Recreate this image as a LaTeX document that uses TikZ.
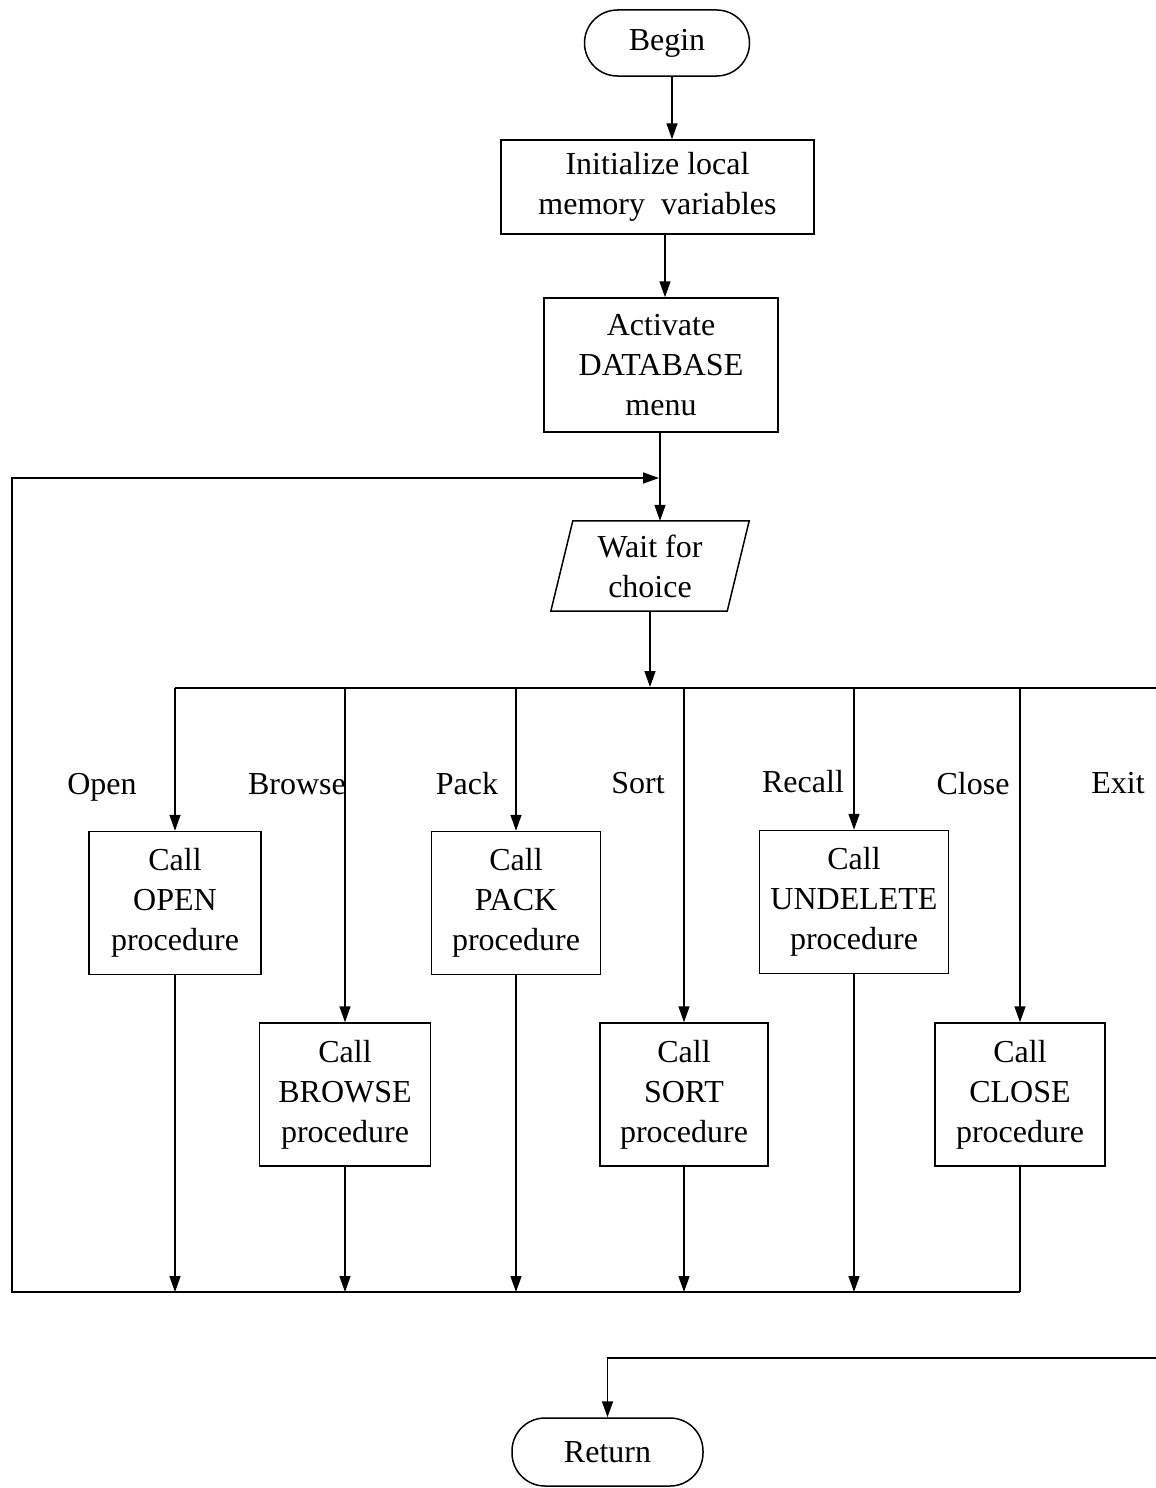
\documentclass[tikz,border=0pt]{standalone}
\usepackage{fontspec}
\setmainfont{Liberation Serif}
\usetikzlibrary{arrows.meta}

\begin{document}
\begin{tikzpicture}[x=1pt,y=-1pt,
  every node/.style={font=\fontsize{32}{40}\selectfont, inner sep=0pt, align=center},
  line/.style={line width=1.5pt},
  flow/.style={line, -{Triangle[length=16pt,width=11pt]}},
  terminal/.style={draw, line width=1.5pt, rounded corners=33pt},
  procbox/.style={draw, line width=1.5pt, minimum height=143pt},
  choice/.style={anchor=base}
]
\useasboundingbox (0,0) rectangle (1156,1488);

% start and end terminals
\node[terminal, minimum width=165pt, minimum height=66pt] (begin) at (667,43) {Begin};
\node[terminal, minimum width=191pt, minimum height=68pt] (ret) at (607.5,1452) {Return};

% set-up steps
\node[procbox, minimum width=313pt, minimum height=94pt] (init) at (657.5,187)
  {Initialize local\\memory\ \ variables};
\node[procbox, minimum width=234pt, minimum height=134pt] (act) at (661,365)
  {Activate\\DATABASE\\menu};

% input step (parallelogram drawn around a plain node)
\node[minimum width=176pt, minimum height=90pt] (wait) at (650,566) {Wait for\\choice};
\draw[line] ([xshift=11pt]wait.north west) -- ([xshift=11pt]wait.north east)
  -- ([xshift=-11pt]wait.south east) -- ([xshift=-11pt]wait.south west) -- cycle;

% procedure calls
\node[procbox, minimum width=172pt] (open)   at (175,903)   {Call\\OPEN\\procedure};
\node[procbox, minimum width=169pt] (pack)   at (516,903)   {Call\\PACK\\procedure};
\node[procbox, minimum width=189pt] (undel)  at (854,902)   {Call\\UNDELETE\\procedure};
\node[procbox, minimum width=171pt] (browse) at (345,1094.5) {Call\\BROWSE\\procedure};
\node[procbox, minimum width=168pt] (sort)   at (684,1094.5) {Call\\SORT\\procedure};
\node[procbox, minimum width=170pt] (close)  at (1020,1094.5) {Call\\CLOSE\\procedure};

% menu choice labels
\node[choice] (lopen)   at (102,794)  {Open};
\node[choice] (lbrowse) at (297,794)  {Browse};
\node[choice] (lpack)   at (467,794)  {Pack};
\node[choice] (lsort)   at (638,793)  {Sort};
\node[choice] (lrecall) at (803,792)  {Recall};
\node[choice] (lclose)  at (973,794)  {Close};
\node[choice] (lexit)   at (1118,793) {Exit};

% routing points
\coordinate (busL) at (175,688);
\coordinate (busR) at (1156,688);
\coordinate (botL) at (12,1292);
\coordinate (botR) at (1020,1292);
\coordinate (topL) at (12,478);
\coordinate (loopEnd) at (659,478);
\coordinate (retR) at (1156,1358);

% main sequence
\draw[flow] (begin.south -| 672,0) -- (init.north -| 672,0);
\draw[flow] (init.south -| 665,0) -- (act.north -| 665,0);
\draw[flow] (act.south -| 660,0) -- (wait.north -| 660,0);
\draw[flow] (wait.south) -- (wait.south |- 0,687);

% choice bus
\draw[line] (busL) -- (busR);
\draw[flow] (open.north |- busL) -- (open.north);
\draw[flow] (browse.north |- busL) -- (browse.north);
\draw[flow] (pack.north |- busL) -- (pack.north);
\draw[flow] (sort.north |- busL) -- (sort.north);
\draw[flow] (undel.north |- busL) -- (undel.north);
\draw[flow] (close.north |- busL) -- (close.north);

% returns to the menu loop
\draw[flow] (open.south) -- (open.south |- botL);
\draw[flow] (browse.south) -- (browse.south |- botL);
\draw[flow] (pack.south) -- (pack.south |- botL);
\draw[flow] (sort.south) -- (sort.south |- botL);
\draw[flow] (undel.south) -- (undel.south |- botL);
\draw[line] (close.south) -- (botR);
\draw[flow] (botR) -- (botL) -- (topL) -- (loopEnd);

% exit path
\draw[flow] (retR) -- (retR -| ret.north) -- (ret.north);
\end{tikzpicture}
\end{document}
